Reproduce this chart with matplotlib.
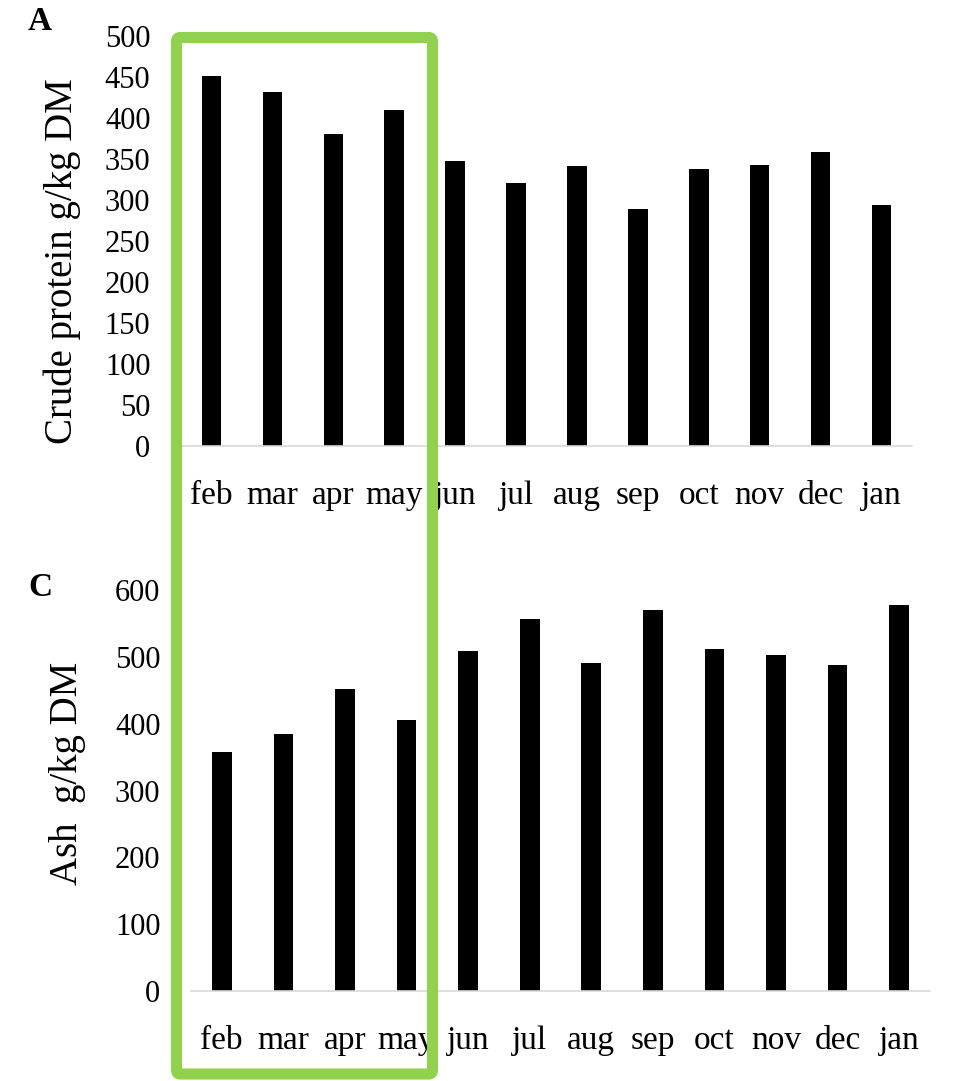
import numpy as np
import matplotlib
matplotlib.use("Agg")
import matplotlib.pyplot as plt
from matplotlib.patches import FancyBboxPatch

plt.rcParams["font.family"] = ["Liberation Serif", "DejaVu Serif"]

meses = ["feb", "mar", "apr", "may", "jun", "jul", "aug", "sep", "oct", "nov", "dec", "jan"]
proteina = [451, 432, 380, 410, 348, 321, 342, 289, 338, 343, 358, 294]
ceniza = [357, 384, 452, 406, 508, 556, 491, 570, 512, 503, 488, 578]

W, H = 961, 1081
fig = plt.figure(figsize=(W / 100, H / 100), dpi=100)


def caja(x0, y0, x1, y1):
    # pixeles (origen arriba-izquierda) -> fraccion de figura
    return [x0 / W, 1 - y1 / H, (x1 - x0) / W, (y1 - y0) / H]


def panel(ax, valores, ymax, paso):
    x = np.arange(len(meses))
    ax.bar(x, valores, width=0.32, color="black")
    ax.set_xlim(-0.5, len(meses) - 0.5)
    ax.set_ylim(0, ymax)
    ax.set_yticks(np.arange(0, ymax + 1, paso))
    ax.set_xticks(x)
    ax.set_xticklabels(meses)
    for s in ["top", "right", "left"]:
        ax.spines[s].set_visible(False)
    ax.spines["bottom"].set_color("#d9d9d9")
    ax.spines["bottom"].set_linewidth(1.2)
    ax.tick_params(axis="both", length=0, labelsize=22)
    ax.tick_params(axis="y", pad=22)
    ax.tick_params(axis="x", pad=25, labelsize=24)


ax1 = fig.add_axes(caja(181, 36, 912, 446))
panel(ax1, proteina, 500, 50)
ax2 = fig.add_axes(caja(191, 590, 930, 991))
panel(ax2, ceniza, 600, 100)

fig.text(62 / W, 1 - 261 / H, "Crude protein g/kg DM", rotation=90,
         ha="center", va="center", fontsize=28)
fig.text(67 / W, 1 - 773 / H, "Ash  g/kg DM", rotation=90,
         ha="center", va="center", fontsize=28)
fig.text(40 / W, 1 - 22 / H, "A", ha="center", va="center",
         fontsize=24, fontweight="bold")
fig.text(40 / W, 1 - 588 / H, "C", ha="center", va="center",
         fontsize=24, fontweight="bold")

# recuadro verde que resalta feb-may
marco = FancyBboxPatch((176.5 / W, 1 - 1074 / H), (432.5 - 176.5) / W,
                       (1074 - 37.5) / H, boxstyle="round,pad=0,rounding_size=0.004",
                       transform=fig.transFigure, fill=False,
                       edgecolor="#92D050", linewidth=8)
fig.patches.append(marco)

fig.savefig("out.png", dpi=100)
